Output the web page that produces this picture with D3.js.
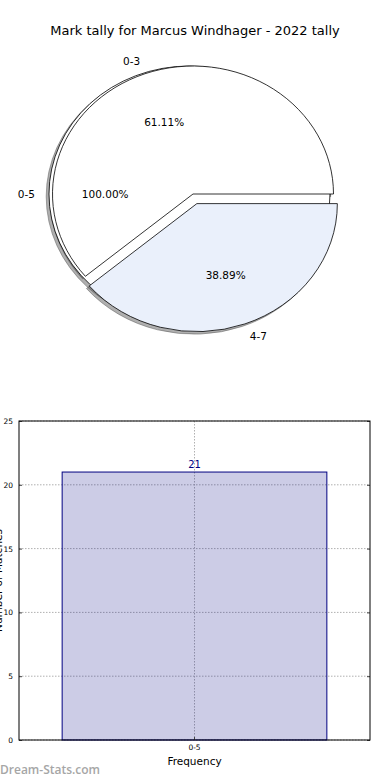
<!DOCTYPE html>
<html>
<head>
<meta charset="utf-8">
<script src="https://cdn.jsdelivr.net/npm/d3@7"></script>
<style>
  body { margin: 0; background: #fff; }
  svg { display: block; font-family: "DejaVu Sans", sans-serif; }
</style>
</head>
<body>
<svg id="chart" width="390" height="780"></svg>
<script>
// Pie data: the first pie is one full wedge, the second is drawn over it
const titleText = 'Mark tally for Marcus Windhager - 2022 tally';
const outerLabels = ['0-5'];
const outerValues = [21];
const outerExplode = [0.025];
const innerLabels = ['0-3', '4-7'];
const innerValues = [11, 7];
const innerExplode = [0, 0.08];
const innerColors = ['#ffffff', '#eaf0fb'];

// Bar data
const barCategories = ['0-5'];
const barValues = [21];
const yTicks = [0, 5, 10, 15, 20, 25];
const xLabel = 'Frequency';
const yLabel = 'Number of Matches';
const watermark = 'Dream-Stats.com';

const svg = d3.select('#chart');

svg.append('text')
  .attr('x', 195).attr('y', 35)
  .attr('text-anchor', 'middle')
  .attr('font-size', 13)
  .text(titleText);

// ---- pie (matplotlib style: 0 rad at 3 o'clock, counter-clockwise) ----
const cx = 193, cy = 194, rx = 140.5, ry = 128;
const pieGen = d3.pie().sort(null).value(d => d.v)
  .startAngle(Math.PI / 2).endAngle(Math.PI / 2 - 2 * Math.PI);
const arc = d3.arc().innerRadius(0).outerRadius(1);

function wedges(labels, values, explode, colors) {
  const total = d3.sum(values);
  return pieGen(labels.map((l, i) => ({ l, v: values[i] }))).map((a, i) => {
    const mid = (a.startAngle + a.endAngle) / 2;
    return {
      arc: a, label: a.data.l, pct: a.data.v / total * 100,
      ox: explode[i] * Math.sin(mid), oy: -explode[i] * Math.cos(mid),
      mid, color: colors[i]
    };
  });
}

const outer = wedges(outerLabels, outerValues, outerExplode, ['#ffffff']);
const inner = wedges(innerLabels, innerValues, innerExplode, innerColors);
const all = outer.concat(inner);

const pg = svg.append('g').attr('transform', `translate(${cx},${cy}) scale(${rx},${ry})`);

// shadows sit under every wedge
pg.append('g').selectAll('path').data(all).join('path')
  .attr('transform', d => `translate(${d.ox - 0.02},${d.oy + 0.02})`)
  .attr('d', d => arc(d.arc))
  .attr('fill', 'rgb(77,77,77)').attr('fill-opacity', 0.45)
  .attr('stroke', 'rgb(77,77,77)').attr('stroke-opacity', 0.45)
  .attr('stroke-width', 1).attr('vector-effect', 'non-scaling-stroke');

pg.append('g').selectAll('path').data(all).join('path')
  .attr('transform', d => `translate(${d.ox},${d.oy})`)
  .attr('d', d => arc(d.arc))
  .attr('fill', d => d.color)
  .attr('stroke', '#000').attr('stroke-width', 0.8)
  .attr('stroke-linejoin', 'miter')
  .attr('vector-effect', 'non-scaling-stroke');

const lab = svg.append('g').attr('font-size', 10.5);
all.forEach(d => {
  const sx = Math.sin(d.mid), sy = -Math.cos(d.mid);
  lab.append('text')
    .attr('x', cx + rx * (d.ox + 1.1 * sx))
    .attr('y', cy + ry * (d.oy + 1.1 * sy))
    .attr('dy', '0.35em')
    .attr('text-anchor', sx > 1e-9 ? 'start' : 'end')
    .text(d.label);
  lab.append('text')
    .attr('x', cx + rx * (d.ox + 0.6 * sx))
    .attr('y', cy + ry * (d.oy + 0.6 * sy))
    .attr('dy', '0.35em')
    .attr('text-anchor', 'middle')
    .text(d.pct.toFixed(2) + '%');
});

// ---- bar chart ----
const m = { left: 19, right: 370, top: 421, bottom: 740 };
const x = d3.scaleBand().domain(barCategories).range([m.left, m.right]).paddingInner(0).paddingOuter(0.163);
const y = d3.scaleLinear().domain([0, 25]).range([m.bottom, m.top]);
const bg = svg.append('g');

// grid
bg.append('g').selectAll('line').data(yTicks).join('line')
  .attr('x1', m.left).attr('x2', m.right)
  .attr('y1', d => y(d)).attr('y2', d => y(d))
  .attr('stroke', '#b0b0b0').attr('stroke-dasharray', '1.5,1.5');
bg.append('g').selectAll('line').data(barCategories).join('line')
  .attr('x1', d => x(d) + x.bandwidth() / 2).attr('x2', d => x(d) + x.bandwidth() / 2)
  .attr('y1', m.top).attr('y2', m.bottom)
  .attr('stroke', '#b0b0b0').attr('stroke-dasharray', '1.5,1.5');

// bars
bg.append('g').selectAll('rect').data(barValues).join('rect')
  .attr('x', (d, i) => x(barCategories[i]))
  .attr('y', d => y(d))
  .attr('width', x.bandwidth())
  .attr('height', d => y(0) - y(d))
  .attr('fill', '#000080').attr('fill-opacity', 0.2)
  .attr('stroke', '#000080').attr('stroke-width', 1);

bg.append('g').selectAll('text').data(barValues).join('text')
  .attr('x', (d, i) => x(barCategories[i]) + x.bandwidth() / 2)
  .attr('y', d => y(d) - 4)
  .attr('text-anchor', 'middle')
  .attr('font-size', 10)
  .attr('fill', '#000080')
  .text(d => d);

// axes
const yAxis = d3.axisLeft(y).tickValues(yTicks).tickSizeInner(-3).tickSizeOuter(0).tickPadding(6);
const ya = bg.append('g').attr('transform', `translate(${m.left},0)`).call(yAxis);
ya.select('.domain').remove();
ya.selectAll('line').attr('stroke', '#444');
ya.selectAll('text').attr('font-size', 7.5).attr('font-family', '"DejaVu Sans", sans-serif');

const yr = bg.append('g').attr('transform', `translate(${m.right},0)`)
  .call(d3.axisRight(y).tickValues(yTicks).tickSizeInner(-3).tickSizeOuter(0).tickFormat(''));
yr.select('.domain').remove();
yr.selectAll('line').attr('stroke', '#444');

const xa = bg.append('g').attr('transform', `translate(0,${m.bottom})`)
  .call(d3.axisBottom(x).tickSizeInner(-3).tickSizeOuter(0).tickPadding(5));
xa.select('.domain').remove();
xa.selectAll('line').attr('stroke', '#444');
xa.selectAll('text').attr('font-size', 7.5).attr('font-family', '"DejaVu Sans", sans-serif');

bg.append('rect')
  .attr('x', m.left).attr('y', m.top)
  .attr('width', m.right - m.left).attr('height', m.bottom - m.top)
  .attr('fill', 'none').attr('stroke', '#000').attr('stroke-width', 1);

bg.append('text')
  .attr('x', (m.left + m.right) / 2).attr('y', 765)
  .attr('text-anchor', 'middle').attr('font-size', 10.5)
  .text(xLabel);

// the reference crops this label at the left edge
bg.append('text')
  .attr('transform', `translate(1.5,${(m.top + m.bottom) / 2}) rotate(-90)`)
  .attr('text-anchor', 'middle').attr('font-size', 10.5)
  .text(yLabel);

svg.append('text')
  .attr('x', 0).attr('y', 774)
  .attr('font-family', '"Open Sans", sans-serif')
  .attr('font-weight', 600)
  .attr('font-size', 12).attr('fill', '#a6a6a6')
  .text(watermark);
</script>
</body>
</html>
